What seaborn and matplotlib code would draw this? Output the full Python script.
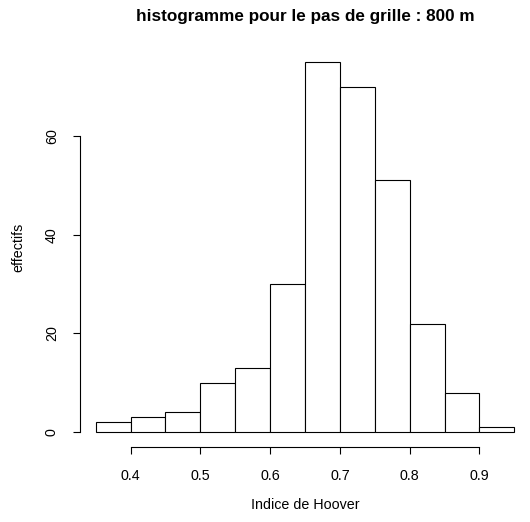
import numpy as np
import matplotlib
matplotlib.use("Agg")
import matplotlib.pyplot as plt
import seaborn as sns

# Histogram bins
bin_edges = [0.35, 0.40, 0.45, 0.50, 0.55, 0.60, 0.65, 0.70, 0.75, 0.80, 0.85, 0.90, 0.95]
counts = [2, 3, 4, 10, 13, 30, 75, 70, 51, 22, 8, 1]
x_ticks = [0.4, 0.5, 0.6, 0.7, 0.8, 0.9]
y_ticks = [0, 20, 40, 60]

centers = [(a + b) / 2 for a, b in zip(bin_edges[:-1], bin_edges[1:])]

sns.set_style("ticks")
plt.rcParams['font.family'] = ['Liberation Sans', 'DejaVu Sans']
plt.rcParams['text.color'] = 'black'
plt.rcParams['xtick.color'] = 'black'
plt.rcParams['ytick.color'] = 'black'
plt.rcParams['axes.labelcolor'] = 'black'

fig = plt.figure(figsize=(5.3, 5.22), dpi=100)
# plot region in pixels: left 80, right 530, top 47, bottom 447
ax = fig.add_axes([80 / 530, (522 - 447) / 522, 450 / 530, 400 / 522])

sns.histplot(x=centers, weights=counts, bins=bin_edges, ax=ax,
             color="white", edgecolor="black", linewidth=0.8, alpha=1)

ax.set_xlim(0.3275, 0.9725)
ax.set_ylim(-3, 78)

ax.set_xticks(x_ticks)
ax.set_xticklabels([str(t) for t in x_ticks])
ax.set_yticks(y_ticks)
ax.tick_params(axis='y', labelrotation=90)
ax.tick_params(length=5.2, width=0.8, labelsize=10.3, color="black", labelcolor="black")
ax.tick_params(axis='x', pad=11)
ax.tick_params(axis='y', pad=10)

for s in ['top', 'right']:
    ax.spines[s].set_visible(False)
ax.spines['left'].set_bounds(0, 60)
ax.spines['bottom'].set_bounds(0.4, 0.9)
ax.spines['left'].set_linewidth(0.8)
ax.spines['bottom'].set_linewidth(0.8)
ax.spines['left'].set_color('black')
ax.spines['bottom'].set_color('black')

for lab in ax.get_yticklabels():
    lab.set_verticalalignment('center')

ax.set_xlabel("Indice de Hoover", fontsize=10.3)
ax.set_ylabel("effectifs", fontsize=10.3)
ax.xaxis.set_label_coords(0.5, -(505 - 447) / 400, transform=ax.transAxes)
ax.yaxis.set_label_coords(-(80 - 18) / 450, 0.5, transform=ax.transAxes)
ax.xaxis.label.set_verticalalignment('center')
ax.yaxis.label.set_verticalalignment('center')

fig.text(305 / 530, 1 - 16 / 522, "histogramme pour le pas de grille : 800 m",
         ha='center', va='center', fontsize=12.3, fontweight='bold')

fig.savefig("out.png", dpi=100)
